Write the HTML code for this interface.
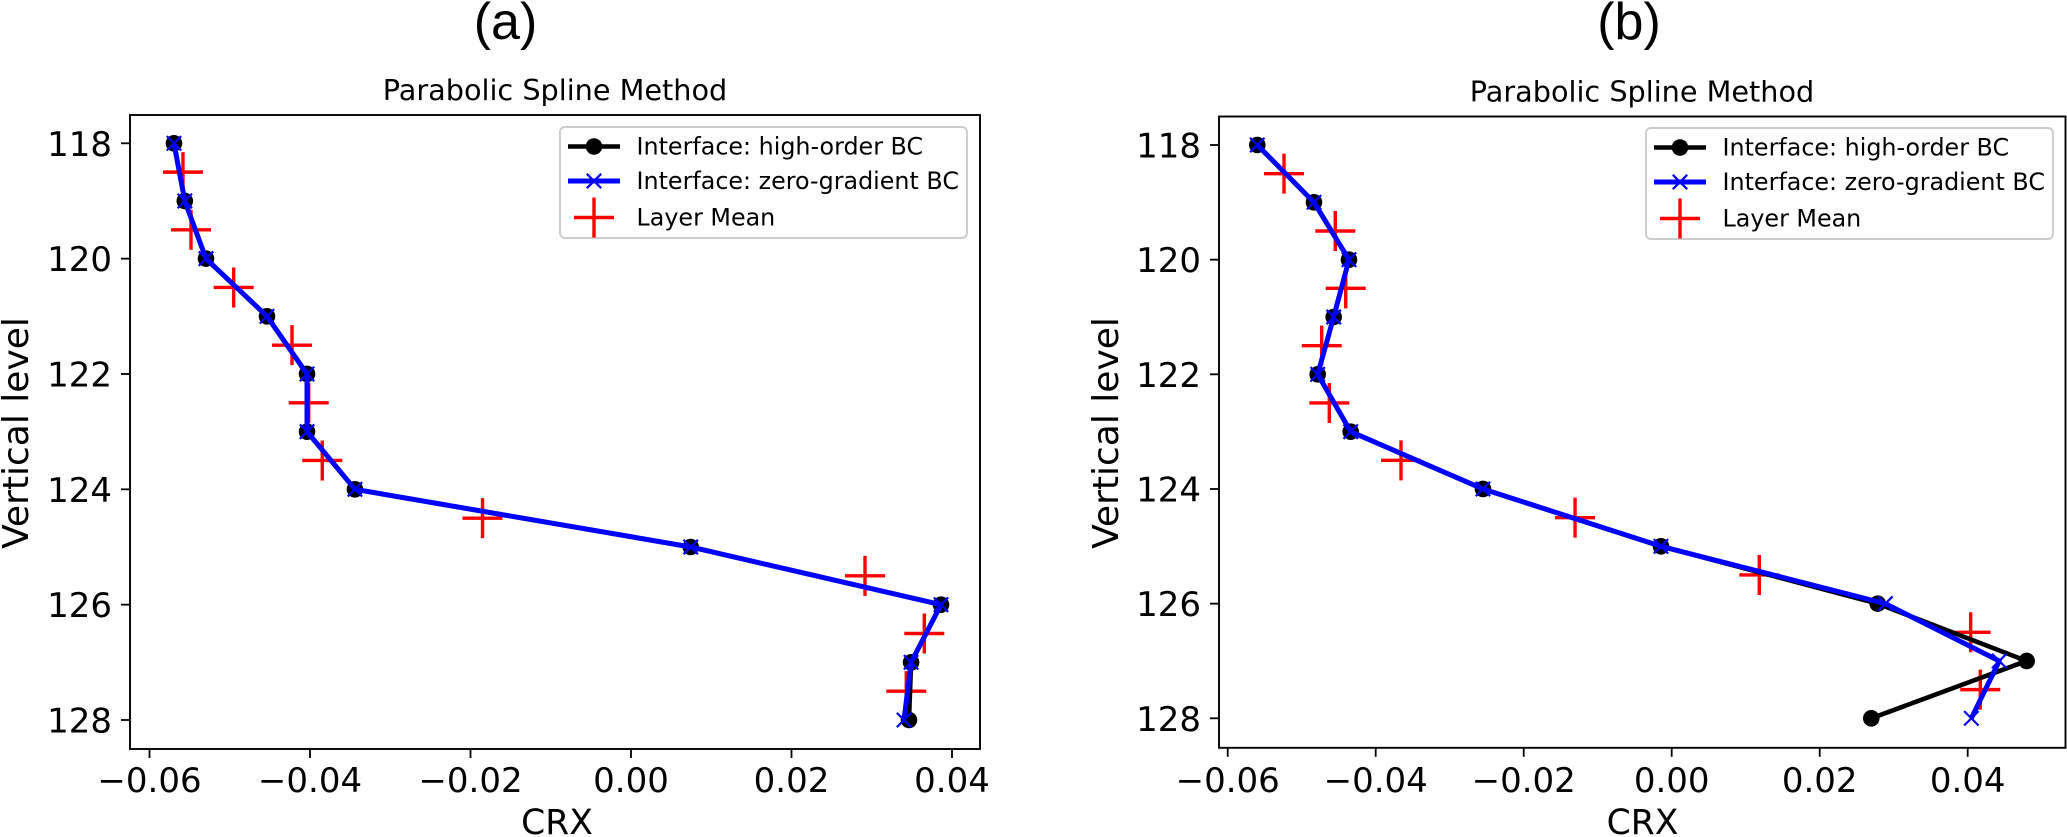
<!DOCTYPE html>
<html lang="en">
<head>
<meta charset="utf-8">
<title>Parabolic Spline Method – CRX vs vertical level</title>
<style>
html,body{margin:0;padding:0;background:#fff;}
svg{display:block;}
text{font-family:"DejaVu Sans","Liberation Sans",sans-serif;fill:#000;}
.panel-letter{font-family:"Liberation Sans",sans-serif;font-size:52px;}
.title{font-size:28.7px;}
.axis-label{font-size:34.5px;}
.ylabel{font-size:36px;}
.legend-text{font-size:23.8px;}
.tick{font-size:34px;}
</style>
</head>
<body>
<svg id="figure" width="2067" height="837" viewBox="0 0 2067 837" xmlns="http://www.w3.org/2000/svg">
  <rect x="0" y="0" width="2067" height="837" fill="#fff"/>

  <g id="panel-a">
    <text class="panel-letter" x="505.5" y="39" text-anchor="middle">(a)</text>
    <text class="title" x="555" y="100" text-anchor="middle">Parabolic Spline Method</text>
    <text class="axis-label" x="557" y="834" text-anchor="middle">CRX</text>
    <text class="ylabel" transform="translate(28,433) rotate(-90)" text-anchor="middle">Vertical level</text>
  </g>

  <g id="panel-b">
    <text class="panel-letter" x="1629" y="39" text-anchor="middle">(b)</text>
    <text class="title" x="1642" y="101.5" text-anchor="middle">Parabolic Spline Method</text>
    <text class="axis-label" x="1642.5" y="834" text-anchor="middle">CRX</text>
    <text class="ylabel" transform="translate(1118,433) rotate(-90)" text-anchor="middle">Vertical level</text>
  </g>
</svg>

<script>
const xTickValues = [-0.06, -0.04, -0.02, 0, 0.02, 0.04];
const xTickLabels = ['\u22120.06', '\u22120.04', '\u22120.02', '0.00', '0.02', '0.04'];
const yTickValues = [118, 120, 122, 124, 126, 128];
const yTickLabels = ['118', '120', '122', '124', '126', '128'];

const interfaceLevels = [118, 119, 120, 121, 122, 123, 124, 125, 126, 127, 128];
const layerLevels = [118.5, 119.5, 120.5, 121.5, 122.5, 123.5, 124.5, 125.5, 126.5, 127.5];

const panelAHighOrder = [-0.05695, -0.0556, -0.05296, -0.04536, -0.04037, -0.04037, -0.0344, 0.00744, 0.03863, 0.0349, 0.03464];
const panelAZeroGradient = [-0.05695, -0.0556, -0.05296, -0.04536, -0.04037, -0.04037, -0.0344, 0.00744, 0.03863, 0.0349, 0.03402];
const panelALayerMean = [-0.05583, -0.05483, -0.04951, -0.04224, -0.04016, -0.03847, -0.0185, 0.02916, 0.03655, 0.0343];

const panelBHighOrder = [-0.056, -0.04834, -0.04361, -0.04568, -0.04784, -0.04338, -0.0255, -0.00145, 0.02784, 0.04797, 0.02697];
const panelBZeroGradient = [-0.056, -0.04834, -0.04361, -0.04568, -0.04784, -0.04338, -0.0255, -0.00145, 0.02887, 0.04427, 0.04049];
const panelBLayerMean = [-0.05239, -0.04546, -0.04405, -0.0473, -0.04627, -0.03658, -0.01306, 0.01184, 0.0404, 0.0417];

const legendEntries = ['Interface: high-order BC', 'Interface: zero-gradient BC', 'Layer Mean'];

const SVGNS = 'http://www.w3.org/2000/svg';

function make(parent, tag, attrs) {
  const node = document.createElementNS(SVGNS, tag);
  for (const key in attrs) node.setAttribute(key, attrs[key]);
  parent.appendChild(node);
  return node;
}

function linearScale(value0, pixel0, value1, pixel1) {
  return function (v) {
    return pixel0 + (v - value0) * (pixel1 - pixel0) / (value1 - value0);
  };
}

function drawCircle(parent, cx, cy, prefix) {
  const el = make(parent, 'circle', { cx: cx, cy: cy, r: 8.3, fill: '#000' });
  
  
}

function drawCross(parent, cx, cy, prefix) {
  const d = 7.2;
  const el = make(parent, 'path', {
    d: 'M' + (cx - d) + ' ' + (cy - d) + 'L' + (cx + d) + ' ' + (cy + d) + 'M' + (cx - d) + ' ' + (cy + d) + 'L' + (cx + d) + ' ' + (cy - d),
    stroke: '#0000ff', 'stroke-width': 2.2, fill: 'none'
  });
  
  
}

function drawPlus(parent, cx, cy, prefix) {
  const d = 20;
  const el = make(parent, 'path', {
    d: 'M' + (cx - d) + ' ' + cy + 'L' + (cx + d) + ' ' + cy + 'M' + cx + ' ' + (cy - d) + 'L' + cx + ' ' + (cy + d),
    stroke: '#ff0000', 'stroke-width': 3.4, fill: 'none'
  });
  
  
}

function drawPanel(cfg) {
  const root = document.getElementById(cfg.id);
  const x = cfg.xScale;
  const y = cfg.yScale;

  // ticks
  xTickValues.forEach(function (v, i) {
    const px = x(v);
    const tick = make(root, 'line', { x1: px, x2: px, y1: cfg.bottom, y2: cfg.bottom + 9, stroke: '#000', 'stroke-width': 1.8 });
    
    
    const label = make(root, 'text', { x: px, y: 792, 'text-anchor': 'middle', class: 'tick' });
    label.textContent = xTickLabels[i];
    
    
  });
  yTickValues.forEach(function (v, i) {
    const py = y(v);
    const tick = make(root, 'line', { x1: cfg.left - 9, x2: cfg.left, y1: py, y2: py, stroke: '#000', 'stroke-width': 1.8 });
    
    
    const label = make(root, 'text', { x: cfg.left - 18, y: py + 12.5, 'text-anchor': 'end', class: 'tick' });
    label.textContent = yTickLabels[i];
    
    
  });

  // layer mean (drawn beneath the lines)
  cfg.mean.forEach(function (v, i) {
    drawPlus(root, x(v), y(layerLevels[i]), 'layer-mean');
  });

  // high-order BC
  const blackLine = make(root, 'polyline', {
    points: cfg.high.map(function (v, i) { return x(v) + ',' + y(interfaceLevels[i]); }).join(' '),
    fill: 'none', stroke: '#000', 'stroke-width': 4.6, 'stroke-linejoin': 'round'
  });
  
  
  cfg.high.forEach(function (v, i) {
    drawCircle(root, x(v), y(interfaceLevels[i]), 'high-order-bc');
  });

  // zero-gradient BC
  const blueLine = make(root, 'polyline', {
    points: cfg.zero.map(function (v, i) { return x(v) + ',' + y(interfaceLevels[i]); }).join(' '),
    fill: 'none', stroke: '#0000ff', 'stroke-width': 5, 'stroke-linejoin': 'round'
  });
  
  
  cfg.zero.forEach(function (v, i) {
    drawCross(root, x(v), y(interfaceLevels[i]), 'zero-gradient-bc');
  });

  // axes frame
  const frame = make(root, 'rect', {
    x: cfg.left, y: cfg.top, width: cfg.right - cfg.left, height: cfg.bottom - cfg.top,
    fill: 'none', stroke: '#000', 'stroke-width': 1.9
  });
  
  

  // legend
  const lx = cfg.legendX;
  const ly = cfg.legendY;
  const box = make(root, 'rect', {
    x: lx, y: ly, width: 407, height: 111, rx: 5, ry: 5,
    fill: '#fff', 'fill-opacity': 0.8, stroke: '#cccccc', 'stroke-width': 1.9
  });
  
  

  const hx1 = lx + 8;
  const hx2 = lx + 60;
  const hmid = lx + 34;
  const rows = [ly + 19.5, ly + 54, ly + 90.5];

  const h1 = make(root, 'line', { x1: hx1, x2: hx2, y1: rows[0], y2: rows[0], stroke: '#000', 'stroke-width': 4.6 });
  
  
  drawCircle(root, hmid, rows[0], 'legend-high-order');

  const h2 = make(root, 'line', { x1: hx1, x2: hx2, y1: rows[1], y2: rows[1], stroke: '#0000ff', 'stroke-width': 5 });
  
  
  drawCross(root, hmid, rows[1], 'legend-zero-gradient');

  drawPlus(root, hmid, rows[2], 'legend-layer-mean');

  legendEntries.forEach(function (t, i) {
    const label = make(root, 'text', { x: lx + 76.5, y: rows[i] + 7.8, class: 'legend-text' });
    label.textContent = t;
    
    
  });
}

drawPanel({
  id: 'panel-a',
  left: 130, right: 980, top: 115, bottom: 749,
  xScale: linearScale(0, 631, 0.04, 952),
  yScale: linearScale(118, 143.3, 128, 720),
  high: panelAHighOrder, zero: panelAZeroGradient, mean: panelALayerMean,
  legendX: 560, legendY: 127
});

drawPanel({
  id: 'panel-b',
  left: 1219, right: 2065.5, top: 116.5, bottom: 747.8,
  xScale: linearScale(0, 1671.7, 0.04, 1967.7),
  yScale: linearScale(118, 145, 128, 718.3),
  high: panelBHighOrder, zero: panelBZeroGradient, mean: panelBLayerMean,
  legendX: 1646, legendY: 128
});
</script>
</body>
</html>
